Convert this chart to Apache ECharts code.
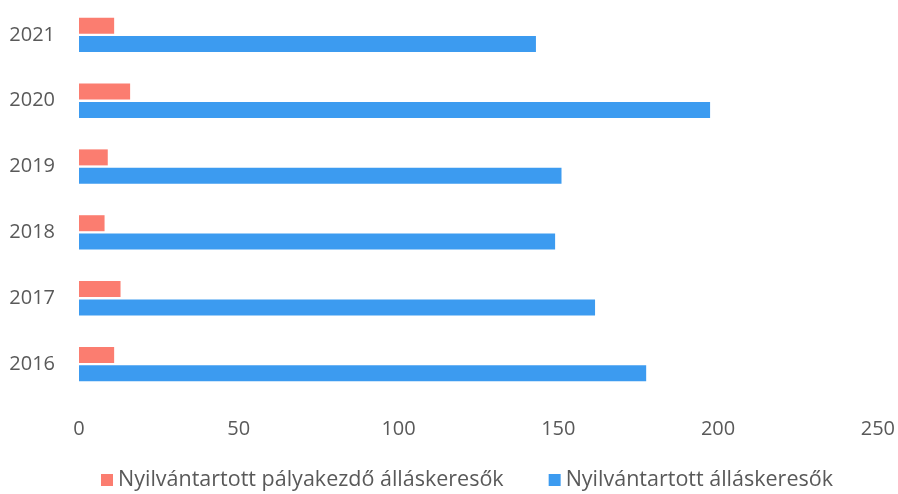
<!DOCTYPE html>
<html>
<head>
    <meta charset="UTF-8">
    <title>Álláskeresők</title>
    <script src="https://cdn.jsdelivr.net/npm/echarts@6/dist/echarts.min.js"></script>
</head>
<body style="margin:0">
    <div id="bar" style="width: 898px; height: 494px;"></div>
    <script>
        // top to bottom
        var years = ['2021', '2020', '2019', '2018', '2017', '2016'];
        var palyakezdo = [11, 16, 9, 8, 13, 11];
        var allaskeresok = [143, 197.5, 151, 149, 161.5, 177.5];

        var font = 'Open Sans';
        var chart = echarts.init(document.getElementById('bar'), null, { renderer: 'canvas' });

        chart.setOption({
            backgroundColor: '#fff',
            animation: false,
            grid: { left: 79, right: 20, top: 2, bottom: 97 },
            legend: {
                bottom: -2,
                left: 96,
                itemWidth: 12,
                itemHeight: 12,
                itemGap: 45,
                icon: 'rect',
                textStyle: { fontFamily: font, fontSize: 21.5, color: '#595959' }
            },
            xAxis: {
                type: 'value',
                min: 0, max: 250, interval: 50,
                axisLine: { show: false },
                axisTick: { show: false },
                splitLine: { show: false },
                axisLabel: { margin: 22, fontFamily: font, fontSize: 20, color: '#595959' }
            },
            yAxis: {
                type: 'category',
                data: years,
                inverse: true,
                axisLine: { show: false },
                axisTick: { show: false },
                axisLabel: { margin: 24, fontFamily: font, fontSize: 20, color: '#595959' }
            },
            series: [
                {
                    name: 'Nyilvántartott pályakezdő álláskeresők',
                    type: 'bar',
                    data: palyakezdo,
                    barWidth: 16,
                    barGap: '15%',
                    itemStyle: { color: '#FB7D70' }
                },
                {
                    name: 'Nyilvántartott álláskeresők',
                    type: 'bar',
                    data: allaskeresok,
                    barWidth: 16,
                    itemStyle: { color: '#3C9BF0' }
                }
            ]
        });
    </script>
</body>
</html>
